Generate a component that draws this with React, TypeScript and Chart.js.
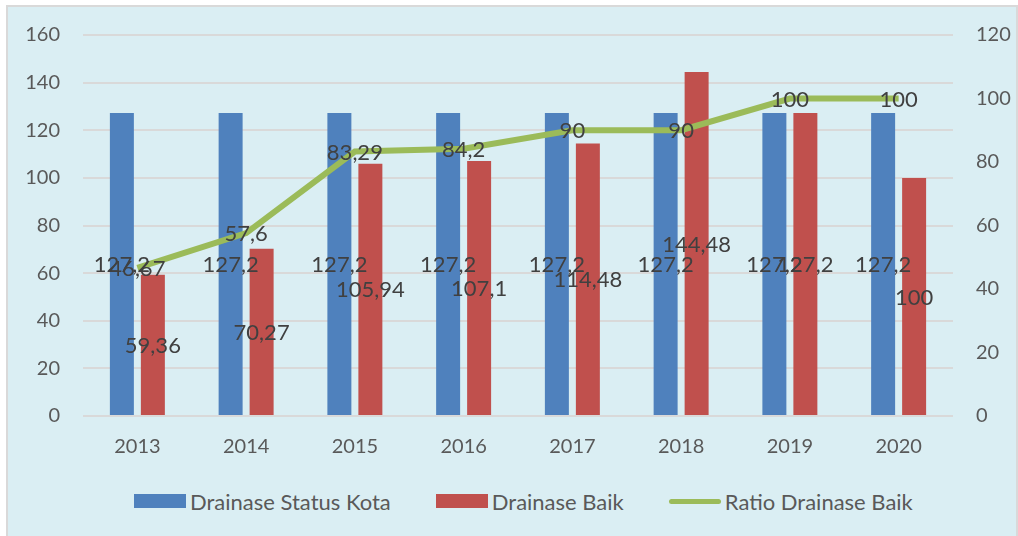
import React, { useEffect, useRef } from "react";
import { Chart, registerables } from "chart.js";

Chart.register(...registerables);

const years = ["2013", "2014", "2015", "2016", "2017", "2018", "2019", "2020"];
const drainaseStatusKota = [127.2, 127.2, 127.2, 127.2, 127.2, 127.2, 127.2, 127.2];
const drainaseBaik = [59.36, 70.27, 105.94, 107.1, 114.48, 144.48, 127.2, 100];
const ratioDrainaseBaik = [46.67, 57.6, 83.29, 84.2, 90, 90, 100, 100];
const leftTicks = { min: 0, max: 160, step: 20 };
const rightTicks = { min: 0, max: 120, step: 20 };

const BLUE = "#4F81BD";
const RED = "#C0504D";
const GREEN = "#9BBB59";
const FONT = "Lato, 'Open Sans', sans-serif";

const fmt = (v: number) => String(v).replace(".", ",");

const labelPlugin = {
  id: "centerLabels",
  afterDatasetsDraw(chart: any) {
    const ctx = chart.ctx;
    ctx.save();
    ctx.font = `22px ${FONT}`;
    ctx.fillStyle = "#404040";
    ctx.textAlign = "center";
    ctx.textBaseline = "middle";
    chart.data.datasets.forEach((ds: any, i: number) => {
      const meta = chart.getDatasetMeta(i);
      meta.data.forEach((el: any, j: number) => {
        const v = ds.data[j] as number;
        let y: number;
        if (ds.type === "line") {
          y = el.y;
        } else {
          y = (el.y + el.base) / 2;
        }
        ctx.fillText(fmt(v), el.x, y + 1);
      });
    });
    ctx.restore();
  },
};

export default function App() {
  const ref = useRef<HTMLCanvasElement | null>(null);

  useEffect(() => {
    if (!ref.current) return;
    const chart = new Chart(ref.current, {
      type: "bar",
      data: {
        labels: years,
        datasets: [
          {
            type: "line",
            label: "Ratio Drainase Baik",
            data: ratioDrainaseBaik,
            borderColor: GREEN,
            backgroundColor: GREEN,
            borderWidth: 6,
            pointRadius: 0,
            tension: 0,
            yAxisID: "y1",
            order: 0,
          } as any,
          {
            label: "Drainase Status Kota",
            data: drainaseStatusKota,
            backgroundColor: BLUE,
            yAxisID: "y",
            categoryPercentage: 0.57,
            barPercentage: 0.774,
            order: 1,
          },
          {
            label: "Drainase Baik",
            data: drainaseBaik,
            backgroundColor: RED,
            yAxisID: "y",
            categoryPercentage: 0.57,
            barPercentage: 0.774,
            order: 1,
          },
        ],
      },
      options: {
        animation: false,
        responsive: false,
        maintainAspectRatio: false,
        layout: { padding: { top: 35, left: 0, right: 0, bottom: 0 } },
        plugins: {
          legend: { display: false },
          tooltip: { enabled: false },
        },
        scales: {
          x: {
            grid: { display: false, drawTicks: false },
            border: { display: false },
            ticks: {
              color: "#595959",
              font: { family: FONT, size: 20 },
              padding: 19,
              maxRotation: 0,
            },
            afterFit: (s: any) => {
              s.height = 54;
            },
          },
          y: {
            position: "left",
            min: leftTicks.min,
            max: leftTicks.max,
            ticks: {
              stepSize: leftTicks.step,
              color: "#595959",
              font: { family: FONT, size: 20 },
              padding: 23,
            },
            grid: { color: "#D9D9D9", lineWidth: 2, drawTicks: false },
            border: { display: false },
            afterFit: (s: any) => {
              s.width = 83;
            },
          },
          y1: {
            position: "right",
            min: rightTicks.min,
            max: rightTicks.max,
            ticks: {
              stepSize: rightTicks.step,
              color: "#595959",
              font: { family: FONT, size: 20 },
              padding: 23,
            },
            grid: { display: false, drawTicks: false },
            border: { display: false },
            afterFit: (s: any) => {
              s.width = 65;
            },
          },
        },
      },
      plugins: [labelPlugin],
    });
    return () => chart.destroy();
  }, []);

  const legendItems = [
    { label: "Drainase Status Kota", color: BLUE, kind: "box" },
    { label: "Drainase Baik", color: RED, kind: "box" },
    { label: "Ratio Drainase Baik", color: GREEN, kind: "line" },
  ];

  return (
    <div style={{ position: "absolute", left: 0, top: 0, width: 1018, height: 536, background: "#ffffff", overflow: "hidden" }}>
      <div
        style={{
          position: "absolute",
          left: 6,
          top: 5,
          width: 1008,
          height: 540,
          border: "2px solid #D9D9D9",
          background: "#DAEEF3",
        }}
      />
      <canvas ref={ref} width={1018} height={470} style={{ position: "absolute", left: 0, top: 0, width: 1018, height: 470 }} />
      <div
        style={{
          position: "absolute",
          left: 134,
          top: 487,
          height: 28,
          display: "flex",
          justifyContent: "flex-start",
          alignItems: "center",
          fontFamily: FONT,
          fontSize: 22,
          color: "#595959",
          gap: 45,
        }}
      >
        {legendItems.map((it) => (
          <div key={it.label} style={{ display: "flex", alignItems: "center" }}>
            {it.kind === "box" ? (
              <div style={{ width: 52, height: 14, background: it.color, marginRight: 4 }} />
            ) : (
              <div style={{ width: 52, height: 5, background: it.color, borderRadius: 3, marginRight: 4 }} />
            )}
            <span style={{ whiteSpace: "nowrap" }}>{it.label}</span>
          </div>
        ))}
      </div>
    </div>
  );
}
